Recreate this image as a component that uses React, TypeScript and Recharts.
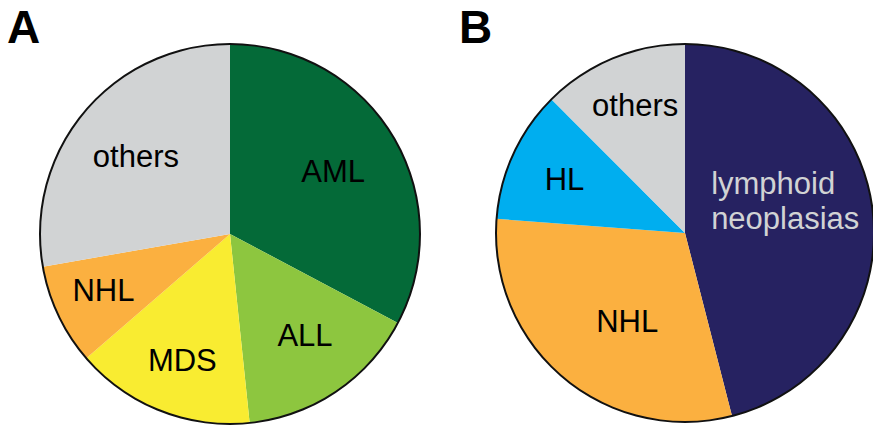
import React from "react";
import { PieChart, Pie, Cell } from "recharts";

const namesA = ["AML", "ALL", "MDS", "NHL", "others"];
const valuesA = [32.75, 15.6, 15.3, 8.6, 27.75];
const namesB = ["lymphoid\nneoplasias", "NHL", "HL", "others"];
const valuesB = [46.0, 30.2, 11.3, 12.5];

const colorsA = ["#046a38", "#8dc63f", "#f9ec31", "#fbb040", "#d1d3d4"];
const colorsB = ["#262261", "#fbb040", "#00aeef", "#d1d3d4"];
const textColorsB = ["#d1d3d4", "#000", "#000", "#000"];

const dataA = namesA.map((name, i) => ({ name, value: valuesA[i] }));
const dataB = namesB.map((name, i) => ({ name, value: valuesB[i] }));
const ring = [{ name: "ring", value: 1 }];

const RAD = Math.PI / 180;
const FONT = "Liberation Sans, Arial, sans-serif";

// label placement styling: radius fraction, pixel nudges, anchor
type LP = [number, number, number, "middle" | "start"];
const labelPosA: Record<string, LP> = {
  AML: [0.64, -1, 0, "middle"],
  ALL: [0.64, 7, 0, "middle"],
  MDS: [0.71, 2, 1, "middle"],
  NHL: [0.72, -3, -3, "middle"],
  others: [0.64, -1, 0, "middle"],
};
const labelPosB: Record<string, LP> = {
  "lymphoid\nneoplasias": [0.55, -77, -19, "start"],
  NHL: [0.6, 15, 1, "middle"],
  HL: [0.69, -2, 0, "middle"],
  others: [0.73, 3, -1, "middle"],
};

const makeLabel = (pos: Record<string, LP>, colors: string[]) => (props: any) => {
  const { cx, cy, midAngle, outerRadius, name, index } = props;
  const [f, dx, dy, anchor] = pos[name] ?? [0.65, 0, 0, "middle"];
  const r = outerRadius * f;
  const x = cx + r * Math.cos(-midAngle * RAD) + dx;
  const y = cy + r * Math.sin(-midAngle * RAD) + dy;
  const lines = String(name).split("\n");
  const lh = 35;
  const y0 = y - ((lines.length - 1) * lh) / 2;
  return (
    <text
      x={x}
      y={y0}
      fill={colors[index]}
      textAnchor={anchor}
      dominantBaseline="central"
      style={{ fontFamily: FONT, fontSize: 31 }}
    >
      {lines.map((l, i) => (
        <tspan key={i} x={x} y={y0 + i * lh} dominantBaseline="central">
          {l}
        </tspan>
      ))}
    </text>
  );
};

export default function App() {
  return (
    <div style={{ position: "absolute", left: 0, top: 0, width: 873, height: 427, background: "#fff" }}>
      <PieChart width={873} height={427} margin={{ top: 0, right: 0, bottom: 0, left: 0 }}>
        <Pie
          data={dataA}
          dataKey="value"
          nameKey="name"
          cx={230}
          cy={234}
          outerRadius={190}
          startAngle={90}
          endAngle={-270}
          stroke="none"
          label={makeLabel(labelPosA, namesA.map(() => "#000"))}
          labelLine={false}
          isAnimationActive={false}
        >
          {dataA.map((d, i) => (
            <Cell key={d.name} fill={colorsA[i]} />
          ))}
        </Pie>
        <Pie
          data={ring}
          dataKey="value"
          cx={230}
          cy={234}
          innerRadius={189}
          outerRadius={191}
          startAngle={90}
          endAngle={-270}
          fill="#111"
          stroke="none"
          isAnimationActive={false}
        />
        <Pie
          data={dataB}
          dataKey="value"
          nameKey="name"
          cx={685}
          cy={233}
          outerRadius={189}
          startAngle={90}
          endAngle={-270}
          stroke="none"
          label={makeLabel(labelPosB, textColorsB)}
          labelLine={false}
          isAnimationActive={false}
        >
          {dataB.map((d, i) => (
            <Cell key={d.name} fill={colorsB[i]} />
          ))}
        </Pie>
        <Pie
          data={ring}
          dataKey="value"
          cx={685}
          cy={233}
          innerRadius={188}
          outerRadius={190}
          startAngle={90}
          endAngle={-270}
          fill="#111"
          stroke="none"
          isAnimationActive={false}
        />
      </PieChart>
      <div style={{ position: "absolute", left: 7, top: 2, fontFamily: FONT, fontWeight: "bold", fontSize: 46, lineHeight: "50px" }}>A</div>
      <div style={{ position: "absolute", left: 459, top: 2, fontFamily: FONT, fontWeight: "bold", fontSize: 46, lineHeight: "50px" }}>B</div>
    </div>
  );
}
